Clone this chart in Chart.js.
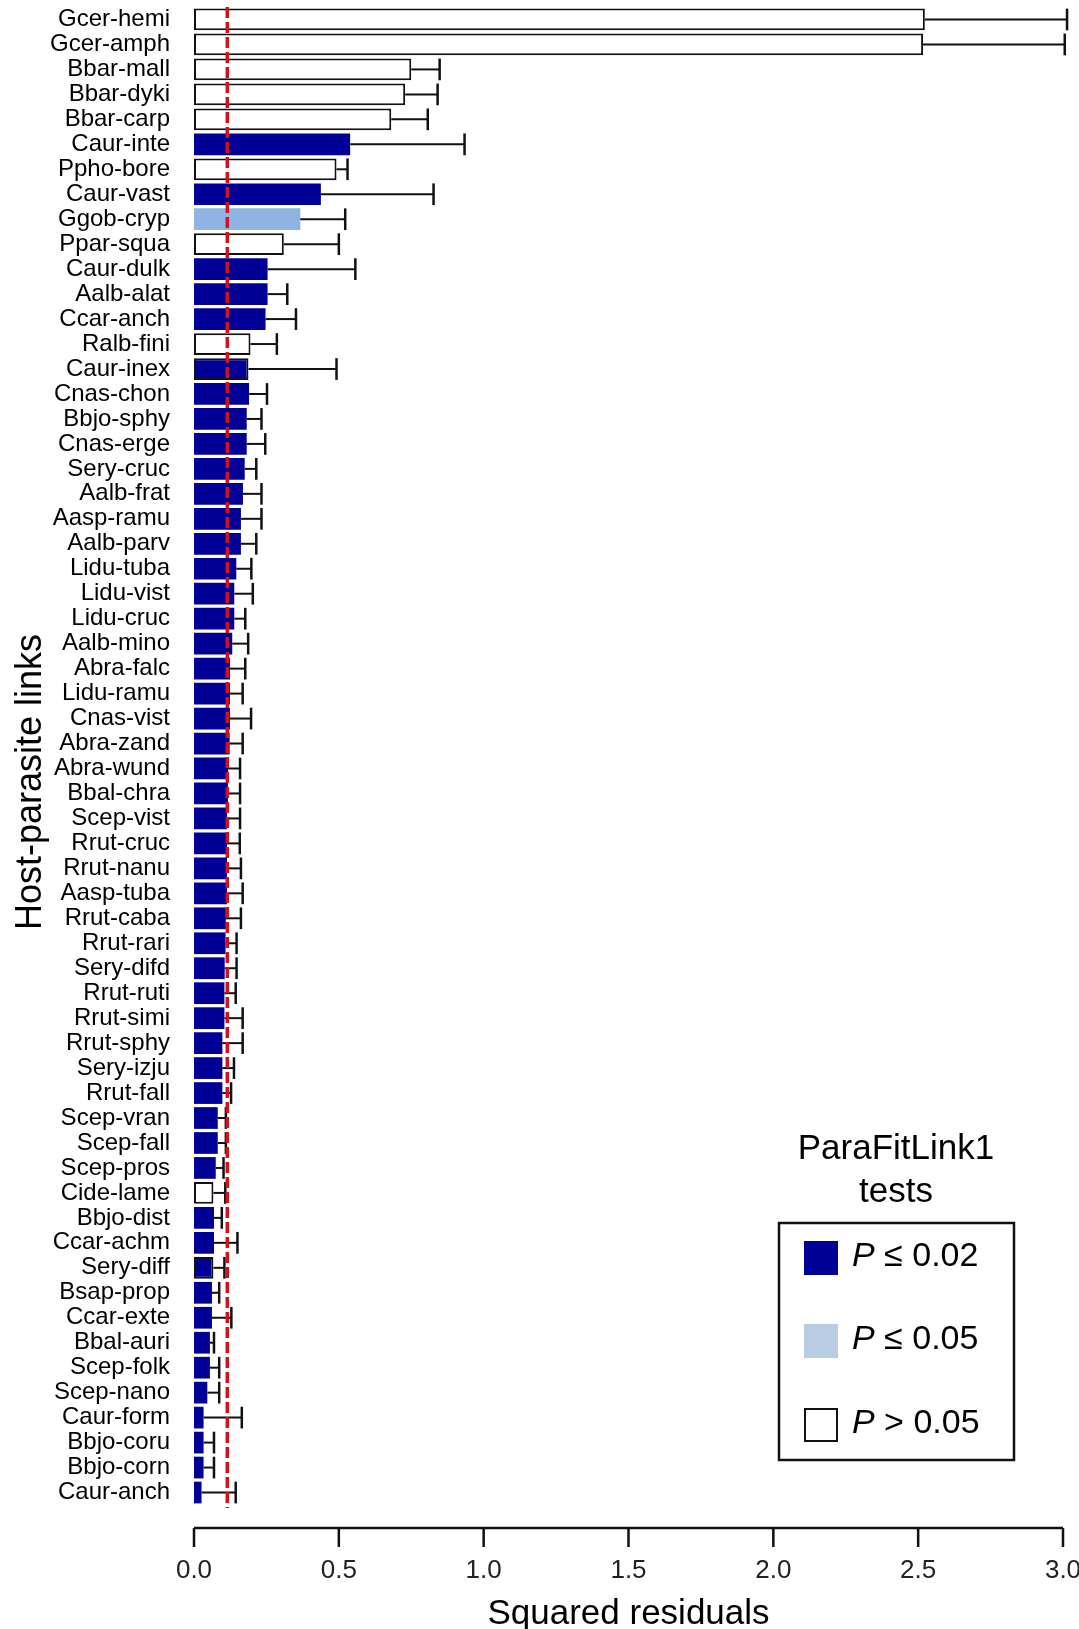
<!DOCTYPE html>
<html>
<head>
<meta charset="utf-8">
<script src="https://cdn.jsdelivr.net/npm/chart.js@4.4.0/dist/chart.umd.min.js"></script>
<style>
  html, body { margin: 0; padding: 0; background: #fff; }
</style>
</head>
<body>
<canvas id="chart" width="1079" height="1629"></canvas>
<script>
// host-parasite links, top to bottom
const links = [
  "Gcer-hemi", "Gcer-amph", "Bbar-mall", "Bbar-dyki", "Bbar-carp", "Caur-inte",
  "Ppho-bore", "Caur-vast", "Ggob-cryp", "Ppar-squa", "Caur-dulk", "Aalb-alat",
  "Ccar-anch", "Ralb-fini", "Caur-inex", "Cnas-chon", "Bbjo-sphy", "Cnas-erge",
  "Sery-cruc", "Aalb-frat", "Aasp-ramu", "Aalb-parv", "Lidu-tuba", "Lidu-vist",
  "Lidu-cruc", "Aalb-mino", "Abra-falc", "Lidu-ramu", "Cnas-vist", "Abra-zand",
  "Abra-wund", "Bbal-chra", "Scep-vist", "Rrut-cruc", "Rrut-nanu", "Aasp-tuba",
  "Rrut-caba", "Rrut-rari", "Sery-difd", "Rrut-ruti", "Rrut-simi", "Rrut-sphy",
  "Sery-izju", "Rrut-fall", "Scep-vran", "Scep-fall", "Scep-pros", "Cide-lame",
  "Bbjo-dist", "Ccar-achm", "Sery-diff", "Bsap-prop", "Ccar-exte", "Bbal-auri",
  "Scep-folk", "Scep-nano", "Caur-form", "Bbjo-coru", "Bbjo-corn", "Caur-anch"
];

// squared residuals (bar length)
const residuals = [
  2.523, 2.517, 0.750, 0.729, 0.681, 0.539,
  0.492, 0.438, 0.367, 0.310, 0.254, 0.254,
  0.247, 0.195, 0.188, 0.190, 0.182, 0.182,
  0.175, 0.169, 0.162, 0.162, 0.146, 0.139,
  0.139, 0.132, 0.124, 0.124, 0.124, 0.123,
  0.118, 0.117, 0.114, 0.114, 0.114, 0.114,
  0.110, 0.109, 0.106, 0.105, 0.105, 0.098,
  0.098, 0.098, 0.082, 0.082, 0.075, 0.067,
  0.069, 0.069, 0.067, 0.062, 0.062, 0.055,
  0.055, 0.046, 0.033, 0.033, 0.033, 0.026
];

// upper end of each error bar
const upper = [
  3.014, 3.006, 0.848, 0.841, 0.807, 0.934,
  0.530, 0.827, 0.522, 0.500, 0.557, 0.322,
  0.352, 0.286, 0.492, 0.252, 0.233, 0.246,
  0.215, 0.233, 0.233, 0.215, 0.198, 0.203,
  0.177, 0.187, 0.177, 0.168, 0.197, 0.168,
  0.159, 0.159, 0.159, 0.158, 0.162, 0.168,
  0.162, 0.147, 0.147, 0.144, 0.168, 0.168,
  0.138, 0.128, 0.110, 0.110, 0.102, 0.108,
  0.096, 0.150, 0.105, 0.087, 0.129, 0.069,
  0.087, 0.087, 0.165, 0.069, 0.069, 0.144
];

// ParaFitLink1 result: "s" P <= 0.02, "m" P <= 0.05, "n" P > 0.05
const signif = [
  "n", "n", "n", "n", "n", "s",
  "n", "s", "m", "n", "s", "s",
  "s", "n", "s", "s", "s", "s",
  "s", "s", "s", "s", "s", "s",
  "s", "s", "s", "s", "s", "s",
  "s", "s", "s", "s", "s", "s",
  "s", "s", "s", "s", "s", "s",
  "s", "s", "s", "s", "s", "n",
  "s", "s", "s", "s", "s", "s",
  "s", "s", "s", "s", "s", "s"
];

// links drawn with a black outline
const outlined = ["Caur-inex", "Sery-diff"];

const cutoff = 0.115;
const xTicks = [0, 0.5, 1, 1.5, 2, 2.5, 3];

const legendTitle = ["ParaFitLink1", "tests"];
const legendOps = ["\u2264 0.02", "\u2264 0.05", "> 0.05"];
const legendFills = ["#000096", "#b8cce4", "#ffffff"];

const FONT = "'Liberation Sans', Arial, sans-serif";
Chart.defaults.font.family = FONT;
Chart.defaults.color = "#000";

const fillFor = { s: "#000096", m: "#8db4e2", n: "#ffffff" };

const fills = signif.map(s => fillFor[s]);
const borders = links.map((l, i) => (signif[i] == "n" || outlined.includes(l)) ? "#111" : fillFor[signif[i]]);
const widths = links.map((l, i) => (signif[i] == "n" || outlined.includes(l)) ? 2 : 0);

// error bars: line from bar end to upper value, with end cap
const errorBars = {
  id: "errorBars",
  afterDatasetsDraw(chart) {
    const xs = chart.scales.x;
    const c = chart.ctx;
    c.save();
    c.strokeStyle = "#111";
    chart.getDatasetMeta(0).data.forEach((bar, i) => {
      const p = bar.getProps(["y", "height"], true);
      const x0 = xs.getPixelForValue(residuals[i]);
      const x1 = xs.getPixelForValue(upper[i]);
      const half = p.height / 2;
      c.lineWidth = 2;
      c.beginPath();
      c.moveTo(x0, p.y);
      c.lineTo(x1, p.y);
      c.stroke();
      c.lineWidth = 2.5;
      c.beginPath();
      c.moveTo(x1, p.y - half);
      c.lineTo(x1, p.y + half);
      c.stroke();
    });
    c.restore();
  }
};

// detached x axis line with downward ticks, and the y axis title
const axisLine = {
  id: "axisLine",
  afterDraw(chart) {
    const xs = chart.scales.x;
    const c = chart.ctx;
    const y = chart.chartArea.bottom + 23;
    c.save();
    c.strokeStyle = "#111";
    c.lineWidth = 2.5;
    c.beginPath();
    c.moveTo(xs.getPixelForValue(xTicks[0]), y);
    c.lineTo(xs.getPixelForValue(xTicks[xTicks.length - 1]), y);
    xTicks.forEach(v => {
      const x = xs.getPixelForValue(v);
      c.moveTo(x, y);
      c.lineTo(x, y + 19);
    });
    c.stroke();

    c.translate(40.5, 782);
    c.rotate(-Math.PI / 2);
    c.fillStyle = "#000";
    c.font = "36px " + FONT;
    c.textAlign = "center";
    c.textBaseline = "alphabetic";
    c.fillText("Host-parasite links", 0, 0);
    c.restore();
  }
};

// red dashed reference line
const cutoffLine = {
  id: "cutoffLine",
  afterDraw(chart) {
    const x = chart.scales.x.getPixelForValue(cutoff);
    const a = chart.chartArea;
    const c = chart.ctx;
    c.save();
    c.strokeStyle = "#d4101c";
    c.lineWidth = 3.5;
    c.setLineDash([11, 4]);
    c.beginPath();
    c.moveTo(x, a.top);
    c.lineTo(x, a.bottom + 3);
    c.stroke();
    c.restore();
  }
};

// boxed legend with title above it
const legendBox = {
  id: "legendBox",
  afterDraw(chart) {
    const c = chart.ctx;
    const cx = 896;
    c.save();
    c.fillStyle = "#000";
    c.textAlign = "center";
    c.textBaseline = "middle";
    c.font = "35px " + FONT;
    c.fillText(legendTitle[0], cx, 1149);
    c.fillText(legendTitle[1], cx, 1192);

    c.strokeStyle = "#111";
    c.lineWidth = 2.5;
    c.strokeRect(779, 1223, 235, 237);

    const rows = [1258, 1341, 1425];
    c.textAlign = "left";
    rows.forEach((y, i) => {
      c.fillStyle = legendFills[i];
      c.fillRect(804, y - 17, 34, 34);
      if (i == 2) {
        c.lineWidth = 2;
        c.strokeRect(805, y - 16, 32, 32);
      }
      c.fillStyle = "#000";
      c.font = "italic 34px " + FONT;
      c.fillText("P", 852, y - 1);
      const pw = c.measureText("P").width;
      c.font = "34px " + FONT;
      c.fillText(" " + legendOps[i], 852 + pw, y - 1);
    });
    c.restore();
  }
};

const ctx = document.getElementById("chart").getContext("2d");
new Chart(ctx, {
  type: "bar",
  data: {
    labels: links,
    datasets: [{
      data: residuals,
      backgroundColor: fills,
      borderColor: borders,
      borderWidth: widths,
      borderSkipped: false,
      barPercentage: 0.87,
      categoryPercentage: 1
    }]
  },
  options: {
    indexAxis: "y",
    responsive: false,
    animation: false,
    layout: { padding: { top: 7, right: 16, bottom: 0, left: 0 } },
    plugins: {
      legend: { display: false },
      tooltip: { enabled: false }
    },
    scales: {
      x: {
        min: 0,
        max: 3,
        afterBuildTicks: s => { s.ticks = xTicks.map(v => ({ value: v })); },
        grid: { display: false, drawTicks: false },
        border: { display: false },
        ticks: {
          font: { size: 26, lineHeight: 1 },
          color: "#222",
          padding: 53,
          maxRotation: 0,
          callback: v => Number(v).toFixed(1)
        },
        title: {
          display: true,
          text: "Squared residuals",
          font: { size: 35, lineHeight: 1 },
          padding: { top: 0, bottom: -3 }
        },
        afterFit: s => {
          s.height = 124;
          s.paddingLeft = 0;
          s.paddingRight = 0;
        }
      },
      y: {
        grid: { display: false, drawTicks: false },
        border: { display: false },
        ticks: { autoSkip: false, font: { size: 24 }, padding: 24 },
        afterFit: s => {
          s.width = 194;
          s.paddingTop = 0;
          s.paddingBottom = 0;
        }
      }
    }
  },
  plugins: [errorBars, axisLine, cutoffLine, legendBox]
});
</script>
</body>
</html>
